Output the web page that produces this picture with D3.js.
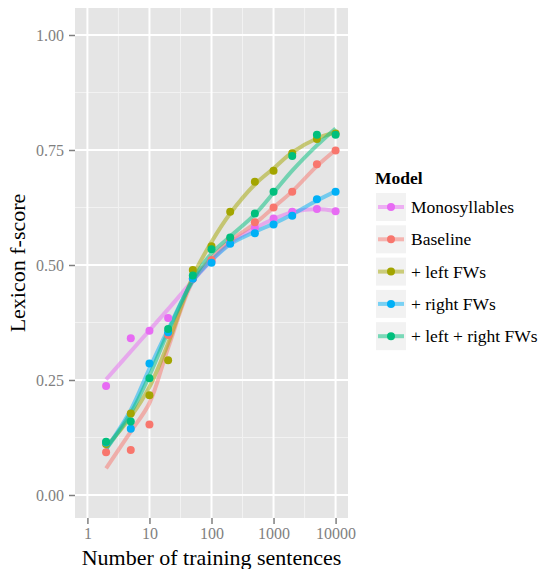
<!DOCTYPE html>
<html>
<head>
<meta charset="utf-8">
<script src="https://cdn.jsdelivr.net/npm/d3@7"></script>
<style>
  body { margin: 0; background: #fff; }
  svg text { font-family: "Liberation Serif", "DejaVu Serif", serif; }
</style>
</head>
<body>
<div id="chart"></div>
<script>
const width = 538, height = 569

const sentences = [2, 5, 10, 20, 50, 100, 200, 500, 1000, 2000, 5000, 10000]
const models = ['Monosyllables', 'Baseline', '+ left FWs', '+ right FWs', '+ left + right FWs']
const colours = ['#E76BF3', '#F8766D', '#A3A500', '#00B0F6', '#00BF7D']

const monoPoints = [0.237, 0.341, 0.357, 0.385, 0.47, 0.507, 0.551, 0.581, 0.601, 0.616, 0.622, 0.617]
const basePoints = [0.093, 0.098, 0.153, 0.348, 0.47, 0.511, 0.556, 0.593, 0.625, 0.659, 0.719, 0.749]
const leftPoints = [0.111, 0.177, 0.217, 0.293, 0.489, 0.541, 0.616, 0.681, 0.705, 0.743, 0.774, 0.786]
const rightPoints = [0.114, 0.144, 0.286, 0.354, 0.47, 0.505, 0.546, 0.569, 0.588, 0.607, 0.643, 0.659]
const bothPoints = [0.116, 0.160, 0.254, 0.361, 0.477, 0.534, 0.560, 0.612, 0.659, 0.737, 0.783, 0.783]

// smoothed curves (loess in the original)
const monoSmooth = [0.251, 0.312, 0.358, 0.404, 0.466, 0.51, 0.548, 0.58, 0.60, 0.615, 0.622, 0.617]
const baseSmooth = [0.058, 0.138, 0.20, 0.32, 0.465, 0.515, 0.553, 0.59, 0.625, 0.66, 0.715, 0.75]
const leftSmooth = [0.105, 0.17, 0.235, 0.33, 0.475, 0.55, 0.612, 0.675, 0.71, 0.745, 0.775, 0.788]
const rightSmooth = [0.10, 0.185, 0.275, 0.36, 0.465, 0.51, 0.545, 0.572, 0.59, 0.61, 0.64, 0.66]
const bothSmooth = [0.10, 0.178, 0.26, 0.355, 0.468, 0.525, 0.562, 0.61, 0.657, 0.705, 0.76, 0.797]

const xTicks = [1, 10, 100, 1000, 10000]
const xMinor = [Math.sqrt(10), Math.sqrt(1000), Math.sqrt(100000), Math.sqrt(10000000)]
const yTicks = [0, 0.25, 0.5, 0.75, 1]
const yMinor = [0.125, 0.375, 0.625, 0.875]

const allPoints = [monoPoints, basePoints, leftPoints, rightPoints, bothPoints]
const allSmooth = [monoSmooth, baseSmooth, leftSmooth, rightSmooth, bothSmooth]

const panel = {left: 75, right: 348, top: 8, bottom: 518}

const x = d3.scaleLog()
.domain([Math.pow(10, -0.2), Math.pow(10, 4.2)])
.range([panel.left, panel.right])

const y = d3.scaleLinear()
.domain([-0.05, 1.0587])
.range([panel.bottom, panel.top])

const svg = d3.select('#chart')
.append('svg')
.attr('width', width)
.attr('height', height)

svg.append('rect')
.attr('x', panel.left)
.attr('y', panel.top)
.attr('width', panel.right - panel.left)
.attr('height', panel.bottom - panel.top)
.attr('fill', '#E5E5E5')

const grid = svg.append('g')

grid.selectAll('.xminor')
.data(xMinor)
.enter()
.append('line')
.attr('x1', d => x(d)).attr('x2', d => x(d))
.attr('y1', panel.top).attr('y2', panel.bottom)
.attr('stroke', '#F2F2F2')
.attr('stroke-width', 1)

grid.selectAll('.yminor')
.data(yMinor)
.enter()
.append('line')
.attr('y1', d => y(d)).attr('y2', d => y(d))
.attr('x1', panel.left).attr('x2', panel.right)
.attr('stroke', '#F2F2F2')
.attr('stroke-width', 1)

grid.selectAll('.xmajor')
.data(xTicks)
.enter()
.append('line')
.attr('x1', d => x(d)).attr('x2', d => x(d))
.attr('y1', panel.top).attr('y2', panel.bottom)
.attr('stroke', '#fff')
.attr('stroke-width', 2)

grid.selectAll('.ymajor')
.data(yTicks)
.enter()
.append('line')
.attr('y1', d => y(d)).attr('y2', d => y(d))
.attr('x1', panel.left).attr('x2', panel.right)
.attr('stroke', '#fff')
.attr('stroke-width', 2)

// axes
const xAxis = svg.append('g')
.attr('transform', `translate(0,${panel.bottom})`)
.call(d3.axisBottom(x).tickValues(xTicks).tickFormat(d3.format('d')).tickSize(6).tickPadding(4))

const yAxis = svg.append('g')
.attr('transform', `translate(${panel.left},0)`)
.call(d3.axisLeft(y).tickValues(yTicks).tickFormat(d3.format('.2f')).tickSize(6).tickPadding(5))

;[xAxis, yAxis].forEach(a => {
    a.select('.domain').remove()
    a.attr('font-family', null)
    a.selectAll('line').attr('stroke', '#7F7F7F').attr('stroke-width', 1.5)
    a.selectAll('text')
    .attr('fill', '#7F7F7F')
    .style('font-size', '16px')
    .style('font-family', '"Liberation Serif", serif')
})

const line = d3.line()
.x((d, i) => x(sentences[i]))
.y(d => y(d))
.curve(d3.curveCatmullRom.alpha(0.5))

const lines = svg.append('g')
const points = svg.append('g')

allSmooth.map((s, k) => {
    lines.append('path')
    .attr('d', line(s))
    .attr('fill', 'none')
    .attr('stroke', colours[k])
    .attr('stroke-opacity', 0.5)
    .attr('stroke-width', 4)
    .attr('stroke-linecap', 'butt')
})

allPoints.map((p, k) => {
    points.selectAll('.pt' + k)
    .data(p)
    .enter()
    .append('circle')
    .attr('cx', (d, i) => x(sentences[i]))
    .attr('cy', d => y(d))
    .attr('r', 4)
    .attr('fill', colours[k])
})

// axis titles
svg.append('text')
.attr('x', (panel.left + panel.right) / 2)
.attr('y', 565)
.attr('text-anchor', 'middle')
.style('font-size', '22px')
.text('Number of training sentences')

svg.append('text')
.attr('transform', `translate(25,${(panel.top + panel.bottom) / 2}) rotate(-90)`)
.attr('text-anchor', 'middle')
.style('font-size', '22px')
.text('Lexicon f-score')

// legend
const legend = svg.append('g')
.attr('transform', 'translate(376,0)')

legend.append('text')
.attr('x', -1)
.attr('y', 184)
.style('font-size', '17.5px')
.style('font-weight', 'bold')
.text('Model')

const rows = legend.selectAll('.row')
.data(models)
.enter()
.append('g')
.attr('transform', (d, i) => `translate(0,${193 + i * 32.3})`)

rows.append('rect')
.attr('width', 30)
.attr('height', 28)
.attr('fill', '#F2F2F2')

rows.append('line')
.attr('x1', 2).attr('x2', 28)
.attr('y1', 14).attr('y2', 14)
.attr('stroke', (d, i) => colours[i])
.attr('stroke-opacity', 0.5)
.attr('stroke-width', 4)

rows.append('circle')
.attr('cx', 15).attr('cy', 14)
.attr('r', 4)
.attr('fill', (d, i) => colours[i])

rows.append('text')
.attr('x', 35)
.attr('y', 20)
.style('font-size', '17.5px')
.text(d => d)
</script>
</body>
</html>
